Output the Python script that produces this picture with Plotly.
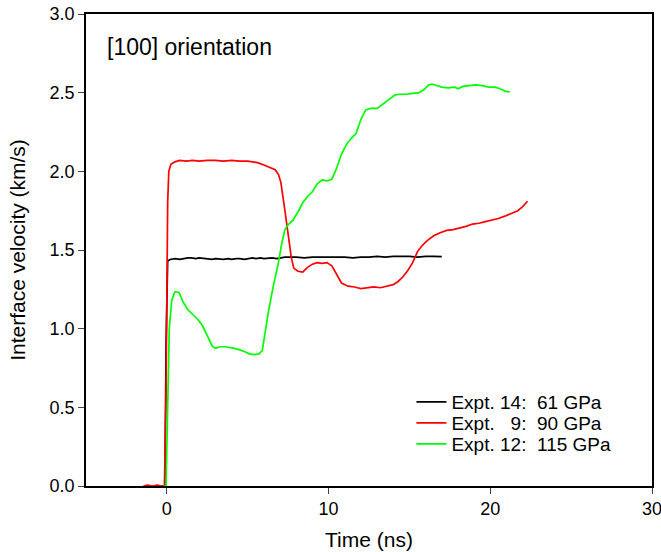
import plotly.graph_objects as go

# Expt. 14: 61 GPa (black)
t14 = [-0.3, -0.12, -0.05, 0.05, 0.2, 0.5, 0.8, 1.0, 1.3, 1.5, 1.8, 2.0, 2.3, 2.5, 2.8, 3.0, 3.3, 3.5, 3.8, 4.0, 4.3, 4.5, 4.8, 5.0, 5.3, 5.5, 5.8, 6.0, 6.3, 6.5, 6.8, 7.0, 7.3, 7.5, 8.0, 8.5, 9.0, 9.5, 10.0, 10.5, 11.0, 11.5, 12.0, 12.5, 13.0, 13.5, 14.0, 14.5, 15.0, 15.5, 16.0, 16.5, 17.0]
v14 = [0.0, 0.0, 0.9, 1.43, 1.44, 1.445, 1.44, 1.445, 1.45, 1.45, 1.445, 1.45, 1.445, 1.445, 1.44, 1.445, 1.44, 1.44, 1.445, 1.44, 1.445, 1.445, 1.44, 1.445, 1.45, 1.445, 1.45, 1.445, 1.45, 1.45, 1.445, 1.45, 1.455, 1.455, 1.455, 1.45, 1.455, 1.455, 1.455, 1.455, 1.455, 1.45, 1.455, 1.455, 1.46, 1.455, 1.46, 1.46, 1.46, 1.455, 1.46, 1.46, 1.458]

# Expt. 9: 90 GPa (red)
t9 = [-1.45, -1.2, -0.9, -0.6, -0.3, -0.15, -0.05, 0.0, 0.05, 0.12, 0.25, 0.5, 0.8, 1.2, 1.6, 2.0, 2.5, 3.0, 3.5, 4.0, 4.5, 5.0, 5.3, 5.6, 6.0, 6.4, 6.7, 6.9, 7.05, 7.3, 7.5, 7.7, 7.85, 8.1, 8.4, 8.7, 9.0, 9.3, 9.6, 9.9, 10.2, 10.5, 10.8, 11.2, 11.6, 12.0, 12.4, 12.8, 13.2, 13.6, 14.0, 14.3, 14.6, 14.9, 15.2, 15.5, 15.8, 16.1, 16.5, 16.9, 17.3, 17.7, 18.1, 18.5, 18.9, 19.3, 19.7, 20.1, 20.5, 20.9, 21.3, 21.7, 22.0, 22.3]
v9 = [0.0, 0.005, 0.0, 0.005, 0.0, 0.0, 0.6, 1.3, 1.8, 2.0, 2.045, 2.06, 2.07, 2.065, 2.07, 2.065, 2.07, 2.07, 2.065, 2.07, 2.065, 2.065, 2.06, 2.055, 2.04, 2.025, 2.01, 1.98, 1.93, 1.75, 1.6, 1.45, 1.385, 1.365, 1.36, 1.39, 1.41, 1.42, 1.415, 1.42, 1.40, 1.34, 1.29, 1.27, 1.265, 1.255, 1.26, 1.265, 1.26, 1.27, 1.28, 1.30, 1.33, 1.37, 1.42, 1.49, 1.53, 1.56, 1.59, 1.61, 1.625, 1.63, 1.64, 1.65, 1.665, 1.67, 1.68, 1.69, 1.70, 1.715, 1.73, 1.75, 1.775, 1.81]

# Expt. 12: 115 GPa (green)
t12 = [-0.2, -0.05, 0.05, 0.15, 0.3, 0.5, 0.75, 1.0, 1.3, 1.6, 1.9, 2.2, 2.5, 2.8, 3.0, 3.3, 3.6, 3.9, 4.2, 4.5, 4.8, 5.1, 5.4, 5.7, 5.9, 6.1, 6.3, 6.6, 6.9, 7.1, 7.3, 7.5, 7.8, 8.1, 8.4, 8.7, 9.0, 9.3, 9.6, 9.9, 10.2, 10.5, 10.8, 11.1, 11.4, 11.7, 12.0, 12.3, 12.6, 13.0, 13.4, 13.8, 14.1, 14.4, 14.8, 15.2, 15.6, 15.9, 16.2, 16.4, 16.7, 17.0, 17.4, 17.8, 18.0, 18.3, 18.7, 19.1, 19.5, 19.9, 20.3, 20.6, 20.9, 21.2]
v12 = [0.0, 0.0, 0.5, 1.0, 1.18, 1.235, 1.23, 1.17, 1.12, 1.09, 1.06, 1.02, 0.96, 0.89, 0.875, 0.885, 0.885, 0.88, 0.875, 0.865, 0.855, 0.84, 0.835, 0.84, 0.86, 0.99, 1.12, 1.28, 1.42, 1.54, 1.63, 1.66, 1.69, 1.74, 1.80, 1.84, 1.87, 1.92, 1.945, 1.94, 1.95, 2.02, 2.11, 2.17, 2.21, 2.24, 2.33, 2.39, 2.40, 2.40, 2.43, 2.46, 2.485, 2.49, 2.49, 2.495, 2.50, 2.52, 2.55, 2.555, 2.545, 2.535, 2.53, 2.535, 2.525, 2.54, 2.545, 2.55, 2.545, 2.535, 2.535, 2.525, 2.51, 2.505]

names = ["Expt. 14:\u00a0 61 GPa", "Expt.\u00a0\u00a0 9:\u00a0 90 GPa", "Expt. 12:\u00a0 115 GPa"]
colors = ["#000000", "#ff0000", "#00ff00"]
legends = ["legend", "legend2", "legend3"]

font = "Liberation Sans, Arial, sans-serif"

fig = go.Figure()
for t, v, n, c, lg in zip([t14, t9, t12], [v14, v9, v12], names, colors, legends):
    fig.add_trace(go.Scatter(x=t, y=v, mode="lines", name=n, legend=lg,
                             line=dict(color=c, width=1.7)))

legend_style = dict(x=0.575, xanchor="left", yanchor="middle",
                    font=dict(size=19, family=font, color="black"),
                    bgcolor="rgba(0,0,0,0)", borderwidth=0)

fig.update_layout(
    width=661, height=552,
    margin=dict(l=86, r=9, t=14, b=66),
    paper_bgcolor="white", plot_bgcolor="white",
    font=dict(family=font, color="black"),
    showlegend=True,
    legend=dict(y=0.178, **legend_style),
    legend2=dict(y=0.1335, **legend_style),
    legend3=dict(y=0.089, **legend_style),
    xaxis=dict(range=[-5, 30], tickvals=[0, 10, 20, 30], ticks="outside", ticklen=6,
               tickwidth=1.3, showgrid=False, zeroline=False, showline=True,
               linecolor="black", linewidth=1.6, mirror=True, automargin=False,
               ticklabeloverflow="allow",
               tickfont=dict(size=18), title=dict(text="Time (ns)", font=dict(size=21), standoff=14)),
    yaxis=dict(range=[0, 3], tickvals=[0, 0.5, 1.0, 1.5, 2.0, 2.5, 3.0], tickformat=".1f",
               ticks="outside", ticklen=6, tickwidth=1.3, showgrid=False, zeroline=False,
               showline=True, linecolor="black", linewidth=1.6, mirror=True, automargin=False,
               ticklabeloverflow="allow",
               tickfont=dict(size=18), title=dict(text="Interface velocity (km/s)", font=dict(size=21), standoff=18)),
    annotations=[dict(text="[100] orientation", x=0.033, y=0.93, xref="paper", yref="paper",
                      xanchor="left", yanchor="middle", showarrow=False, font=dict(size=23))],
)
fig.write_html("out.html")
